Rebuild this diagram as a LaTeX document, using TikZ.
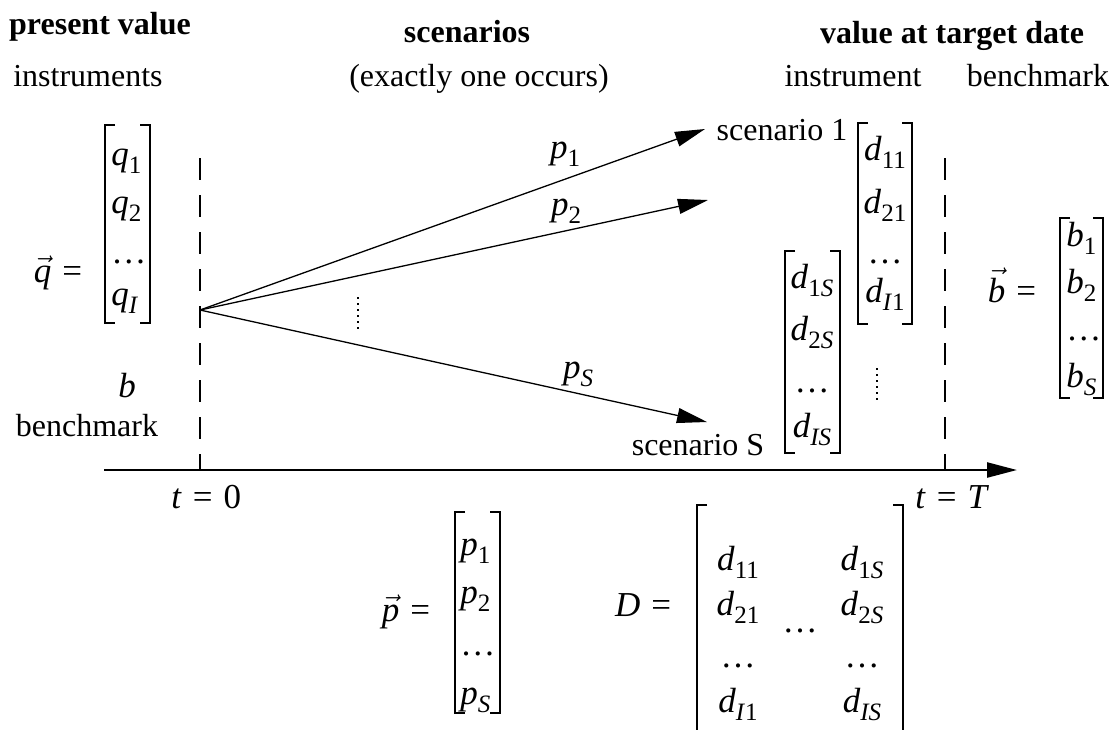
\documentclass[tikz,border=0pt]{standalone}
\usepackage{fontspec}
\setmainfont{Liberation Serif}
\usetikzlibrary{arrows.meta}

\newcommand{\vv}[1]{$\vec{\mbox{\itshape #1}}$}
\newcommand{\sub}[2]{\textit{#1}\raisebox{-0.5ex}{\fontsize{12.5}{13}\selectfont #2}}
\newcommand{\eq}{\hspace{5.5pt}=\hspace{5.5pt}}
% a pair of column brackets: left x, right x, top y, bottom y
\newcommand{\colbrack}[4]{%
  \draw[brack] (#1+10,#3) -- (#1,#3) -- (#1,#4) -- (#1+10,#4);
  \draw[brack] (#2-10,#3) -- (#2,#3) -- (#2,#4) -- (#2-10,#4);}

\tikzset{
  txt/.style={inner sep=0pt, anchor=base, font=\fontsize{16}{19}\selectfont},
  head/.style={inner sep=0pt, anchor=base, font=\fontsize{16}{19}\selectfont\bfseries},
  entry/.style={inner sep=0pt, anchor=base, font=\fontsize{17.5}{20}\selectfont},
  brack/.style={line width=1.2pt},
  timeline/.style={line width=1.3pt, dash pattern=on 11pt off 7.5pt},
  prob/.style={line width=0.65pt, -{Triangle[length=15pt,width=7.5pt]}},
  axis/.style={line width=1.2pt, -{Triangle[length=15pt,width=7.5pt]}},
  vdots/.style={line width=1.4pt, dash pattern=on 1pt off 2pt},
}

\begin{document}
\begin{tikzpicture}[x=0.5pt,y=-0.5pt]
  \useasboundingbox (0,0) rectangle (1118,730);

  % headings
  \node[head] (pv) at (100,34) {present value};
  \node[head] (scen) at (467,42) {scenarios};
  \node[head] (vtd) at (952,43) {value at target date};
  \node[txt] (instrs) at (88,86) {instruments};
  \node[txt] (once) at (479,86) {(exactly one occurs)};
  \node[txt] (instr) at (853,86) {instrument};
  \node[txt] (bench) at (1038,86) {benchmark};

  % time axis
  \coordinate (ax0) at (104,470);
  \coordinate (ax1) at (1017,470);
  \draw[axis] (ax0) -- (ax1);
  \draw[timeline] (200,158) -- (200,470);
  \draw[timeline] (945,158) -- (945,470);
  \node[entry,anchor=base west] (t0) at (171,508) {\textit{t}\eq 0};
  \node[entry,anchor=base west] (tT) at (915,508) {\textit{t}\eq\textit{T}};

  % present values
  \node[entry] (qvec) at (58,282) {\vv{q}\eq};
  \colbrack{105}{150}{125}{323}
  \node[entry,anchor=base west] (q1) at (111,165) {\sub{q}{1}};
  \node[entry,anchor=base west] (q2) at (111,213) {\sub{q}{2}};
  \node[entry,anchor=base west] (qd) at (111,263) {\ldots};
  \node[entry,anchor=base west] (qI) at (111,305) {\sub{q}{\textit{I}}};
  \node[entry] (b0) at (127,397) {\textit{b}};
  \node[txt] (bench0) at (87,436) {benchmark};

  % scenarios
  \coordinate (o) at (200,310);
  \coordinate (s1) at (705,129);
  \coordinate (s2) at (708,200);
  \coordinate (sS) at (707,422);
  \draw[prob] (o) -- (s1);
  \draw[prob] (o) -- (s2);
  \draw[prob] (o) -- (sS);
  \node[entry] (p1l) at (565,158) {\sub{p}{1}};
  \node[entry] (p2l) at (566,215) {\sub{p}{2}};
  \node[entry] (pSl) at (578,378) {\sub{p}{\textit{S}}};
  \draw[vdots] (358,297) -- (358,331);
  \node[txt] (scen1) at (782,140) {scenario 1};
  \node[txt] (scenS) at (698,455) {scenario S};

  % payoffs at target date
  \colbrack{858}{912}{123}{324}
  \node[entry] (d11) at (885,160) {\sub{d}{11}};
  \node[entry] (d21) at (885,213) {\sub{d}{21}};
  \node[entry] (dd1) at (885,263) {\ldots};
  \node[entry] (dI1) at (885,302) {\sub{d}{\textit{I}1}};
  \colbrack{785}{840}{251}{453}
  \node[entry] (d1S) at (812,288) {\sub{d}{1\textit{S}}};
  \node[entry] (d2S) at (812,340) {\sub{d}{2\textit{S}}};
  \node[entry] (ddS) at (812,392) {\ldots};
  \node[entry] (dIS) at (812,437) {\sub{d}{\textit{IS}}};
  \draw[vdots] (877,368) -- (877,404);

  % benchmark values
  \node[entry] (bvec) at (1012,302) {\vv{b}\eq};
  \colbrack{1060}{1103}{218}{398}
  \node[entry,anchor=base west] (b1) at (1066,246) {\sub{b}{1}};
  \node[entry,anchor=base west] (b2) at (1066,293) {\sub{b}{2}};
  \node[entry,anchor=base west] (bd) at (1066,340) {\ldots};
  \node[entry,anchor=base west] (bS) at (1066,387) {\sub{b}{\textit{S}}};

  % probabilities and payoff matrix
  \node[entry] (pvec) at (406,621) {\vv{p}\eq};
  \colbrack{455}{500}{512}{713}
  \node[entry,anchor=base west] (pp1) at (460,555) {\sub{p}{1}};
  \node[entry,anchor=base west] (pp2) at (460,603) {\sub{p}{2}};
  \node[entry,anchor=base west] (ppd) at (460,655) {\ldots};
  \node[entry,anchor=base west] (ppS) at (460,704) {\sub{p}{\textit{S}}};

  \node[entry] (Dmat) at (643,616) {\textit{D}\eq};
  \draw[brack] (707,505) -- (697,505) -- (697,730);
  \draw[brack] (893,505) -- (903,505) -- (903,730);
  \node[entry] (D11) at (738,570) {\sub{d}{11}};
  \node[entry] (D21) at (738,615) {\sub{d}{21}};
  \node[entry] (Dd1) at (738,667) {\ldots};
  \node[entry] (DI1) at (738,712) {\sub{d}{\textit{I}1}};
  \node[entry] (Ddd) at (800,632) {\ldots};
  \node[entry] (D1S) at (862,570) {\sub{d}{1\textit{S}}};
  \node[entry] (D2S) at (862,615) {\sub{d}{2\textit{S}}};
  \node[entry] (DdS) at (862,667) {\ldots};
  \node[entry] (DIS) at (862,712) {\sub{d}{\textit{IS}}};
\end{tikzpicture}
\end{document}
